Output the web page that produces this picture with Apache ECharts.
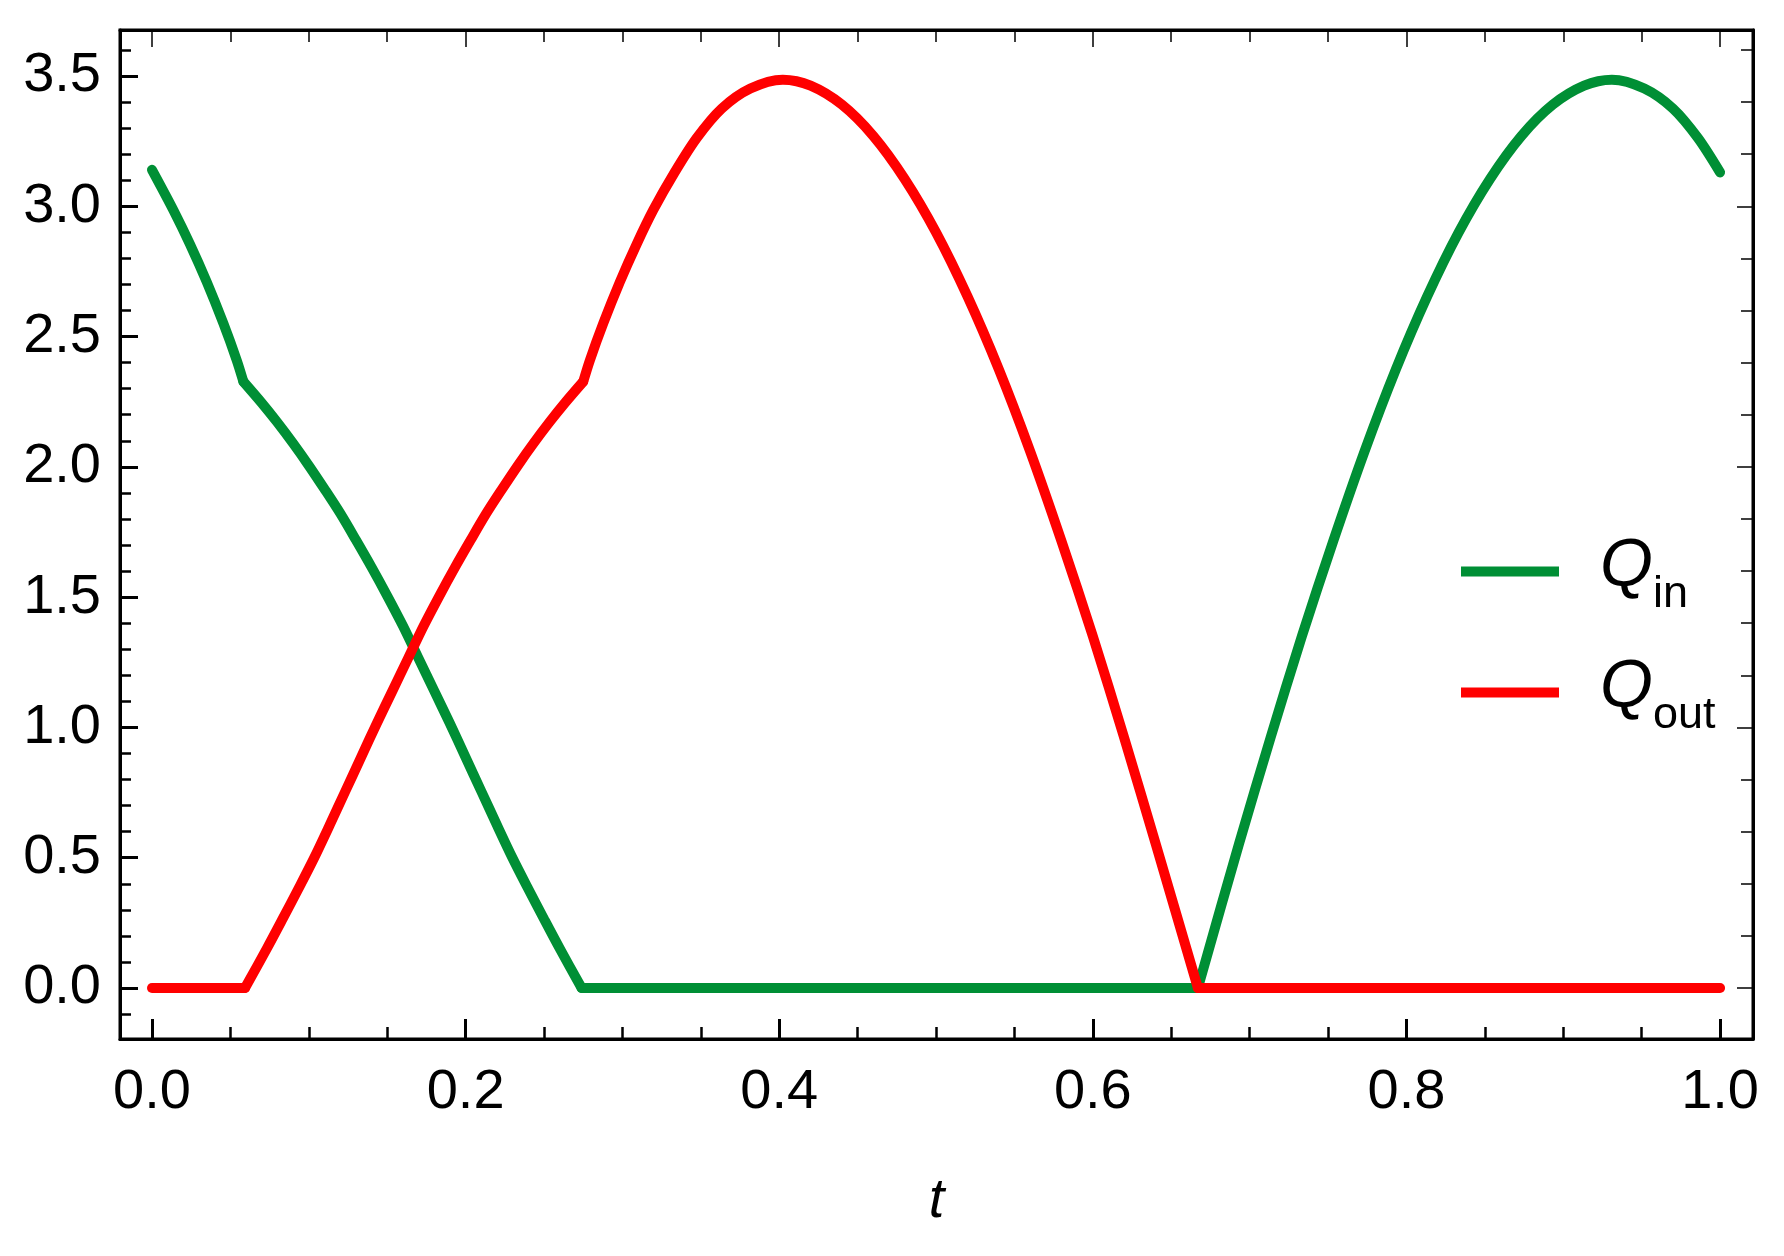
<!DOCTYPE html>
<html>
<head>
<meta charset="utf-8">
<script src="https://cdn.jsdelivr.net/npm/echarts@6/dist/echarts.min.js"></script>
<style>
html,body{margin:0;padding:0;background:#ffffff;}
#c{width:1784px;height:1256px;}
</style>
</head>
<body>
<div id="c"></div>
<script>
// ---- data ----
const qInT = [0, 0.0136, 0.0242, 0.0349, 0.0455, 0.054, 0.0583, 0.07, 0.08, 0.09, 0.10, 0.11, 0.12, 0.13, 0.14, 0.15, 0.16, 0.17, 0.18, 0.19, 0.20, 0.21, 0.22, 0.23, 0.24, 0.25, 0.26, 0.274, 0.667, 0.6933, 0.7133, 0.7333, 0.7533, 0.7733, 0.7933, 0.8133, 0.8333, 0.8533, 0.8733, 0.8933, 0.9133, 0.931, 0.9517, 0.97, 0.9859, 1.0];
const qInV = [3.14, 2.986, 2.855, 2.71, 2.551, 2.41, 2.327, 2.245, 2.17, 2.09, 2.005, 1.915, 1.822, 1.72, 1.615, 1.505, 1.39, 1.265, 1.14, 1.015, 0.885, 0.755, 0.625, 0.498, 0.38, 0.265, 0.152, 0, 0, 0.555, 0.96, 1.35, 1.715, 2.06, 2.375, 2.655, 2.9, 3.105, 3.27, 3.39, 3.463, 3.486, 3.452, 3.375, 3.262, 3.13];
const qInKinks = [0.0583, 0.274, 0.667];

const qOutT = [0, 0.0593, 0.0733, 0.0833, 0.0933, 0.1033, 0.1133, 0.1233, 0.1333, 0.1433, 0.1533, 0.1633, 0.1733, 0.1833, 0.1933, 0.2033, 0.2133, 0.2233, 0.2333, 0.2433, 0.2533, 0.2633, 0.275, 0.2793, 0.2878, 0.2984, 0.3091, 0.3197, 0.3333, 0.3474, 0.3633, 0.3816, 0.4023, 0.42, 0.44, 0.46, 0.48, 0.50, 0.52, 0.54, 0.56, 0.58, 0.60, 0.62, 0.64, 0.667, 1.0];
const qOutV = [0, 0, 0.152, 0.265, 0.38, 0.498, 0.625, 0.755, 0.885, 1.015, 1.14, 1.265, 1.39, 1.505, 1.615, 1.72, 1.822, 1.915, 2.005, 2.09, 2.17, 2.245, 2.327, 2.41, 2.551, 2.71, 2.855, 2.986, 3.13, 3.262, 3.375, 3.452, 3.486, 3.463, 3.39, 3.27, 3.105, 2.9, 2.655, 2.375, 2.06, 1.715, 1.35, 0.96, 0.555, 0, 0];
const qOutKinks = [0.0593, 0.275, 0.667];

const seriesNames = ['Q_in', 'Q_out'];
const legendSubs = ['in', 'out'];
const xRange = [-0.0204, 1.0210];
const yRange = [-0.1957, 3.6765];
const xMajorStep = 0.2;
const yMajorStep = 0.5;
const yRightMajorStep = 1;

// ---- build ----
const FONT = '"Liberation Sans", Arial, Helvetica, sans-serif';
const GREEN = '#008F35';
const RED = '#FF0000';
const LINE_W = 10;
const isMultiple = (v, step) => Math.abs(v / step - Math.round(v / step)) < 1e-6;

// split a curve into smooth pieces at its corners
function pieces(ts, vs, kinks) {
  const out = [];
  let cur = [];
  ts.forEach((t, i) => {
    cur.push([t, vs[i]]);
    if (kinks.indexOf(t) >= 0) {
      out.push(cur);
      cur = [[t, vs[i]]];
    }
  });
  if (cur.length > 1) out.push(cur);
  return out;
}

function frameAxis(pos, range, step, minorSplit, majorLen, minorLen, majorW, minorW, withLabels) {
  const o = {
    type: 'value',
    position: pos,
    min: range[0],
    max: range[1],
    minInterval: step,
    maxInterval: step,
    splitNumber: 5,
    axisLine: { show: true, onZero: false, lineStyle: { color: '#000', width: 3 } },
    axisTick: { show: true, inside: true, length: majorLen, lineStyle: { color: '#000', width: majorW } },
    minorTick: { show: true, splitNumber: minorSplit, length: minorLen, lineStyle: { color: '#000', width: minorW } },
    splitLine: { show: false },
    minorSplitLine: { show: false },
    axisLabel: { show: false }
  };
  if (withLabels) {
    o.axisLabel = {
      show: true,
      fontSize: 56,
      fontFamily: FONT,
      color: '#000',
      formatter: v => isMultiple(v, step) ? (Math.abs(v) < 1e-9 ? 0 : v).toFixed(1) : ''
    };
  }
  return o;
}

const xBottom = frameAxis('bottom', xRange, xMajorStep, 4, 20, 12, 3, 2.5, true);
xBottom.axisLabel.margin = 26;
xBottom.name = 't';
xBottom.nameLocation = 'middle';
xBottom.nameGap = 134;
xBottom.nameTextStyle = { fontSize: 56, fontStyle: 'italic', fontFamily: FONT, color: '#000' };
const xTop = frameAxis('top', xRange, xMajorStep, 4, 17, 12, 1.5, 1.5, false);

const yLeft = frameAxis('left', yRange, yMajorStep, 5, 18, 11, 3, 2.5, true);
yLeft.axisLabel.margin = 19;
const yRight = frameAxis('right', yRange, yRightMajorStep, 5, 16, 12, 1.5, 1.5, false);

function lineSeries(name, color, data, z) {
  return {
    name: name,
    type: 'line',
    xAxisIndex: 0, yAxisIndex: 0,
    data: data,
    showSymbol: false,
    symbol: 'none',
    smooth: 0.3,
    color: color,
    lineStyle: { color: color, width: LINE_W, cap: 'round', join: 'round' },
    z: z
  };
}

const series = [];
pieces(qInT, qInV, qInKinks).forEach(p => series.push(lineSeries(seriesNames[0], GREEN, p, 2)));
pieces(qOutT, qOutV, qOutKinks).forEach(p => series.push(lineSeries(seriesNames[1], RED, p, 3)));

const chart = echarts.init(document.getElementById('c'), null, { renderer: 'canvas', width: 1784, height: 1256 });

chart.setOption({
  animation: false,
  backgroundColor: '#ffffff',
  grid: { left: 120, top: 30, right: 31, bottom: 217, show: true, borderColor: '#000', borderWidth: 3, backgroundColor: 'transparent' },
  xAxis: [xBottom, xTop],
  yAxis: [yLeft, yRight],
  legend: {
    orient: 'vertical',
    left: 1461,
    top: 526,
    padding: 0,
    itemWidth: 98,
    itemHeight: 10,
    itemGap: 30,
    icon: 'rect',
    selectedMode: false,
    data: seriesNames,
    formatter: name => '{q|Q}{s|' + legendSubs[seriesNames.indexOf(name)] + '}',
    textStyle: {
      rich: {
        q: { fontSize: 68, fontStyle: 'italic', fontFamily: FONT, color: '#000', lineHeight: 104, padding: [0, 0, 8, 36] },
        s: { fontSize: 45, fontFamily: FONT, color: '#000', lineHeight: 66, padding: [46, 0, 0, 0] }
      }
    }
  },
  series: series
});
</script>
</body>
</html>
